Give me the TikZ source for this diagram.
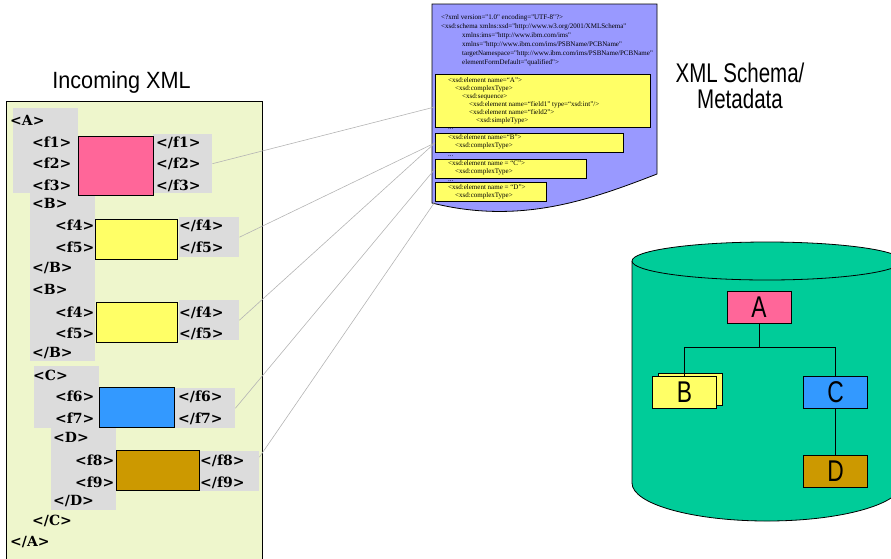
\documentclass[tikz,border=0pt]{standalone}
\usepackage{fontspec}
\newfontfamily\tagfont{DejaVu Serif}
\newfontfamily\schemafont{Liberation Serif}
\newfontfamily\headsans[FakeStretch=0.92]{Liberation Sans}
\newfontfamily\narrowsans[FakeStretch=0.76]{Liberation Sans}

\definecolor{panelGreen}{HTML}{EEF6CC}
\definecolor{tagGray}{HTML}{DCDCDC}
\definecolor{pinkA}{HTML}{FF6699}
\definecolor{fieldYellow}{HTML}{FFFF66}
\definecolor{blueC}{HTML}{3399FF}
\definecolor{brownD}{HTML}{CC9900}
\definecolor{docBlue}{HTML}{9999FF}
\definecolor{cylGreen}{HTML}{00CC99}
\definecolor{linkGray}{HTML}{B4B4B4}

\tikzset{
  tag/.style={anchor=west, inner sep=0pt, text height=10pt, text depth=0pt,
    font=\tagfont\bfseries\fontsize{14}{16}\selectfont},
  tagbg/.style={fill=tagGray, inner sep=0pt, anchor=north west},
  xsdbox/.style={fill=fieldYellow, draw=black, line width=0.8pt, inner sep=0pt, anchor=north west},
  xsdtext/.style={anchor=north west, inner sep=0pt, align=left,
    font=\schemafont\fontsize{7}{8}\selectfont},
  link/.style={draw=linkGray, line width=0.6pt},
  seg/.style={draw=black, line width=0.8pt, minimum width=64pt, minimum height=32pt,
    inner sep=0pt, font=\narrowsans\fontsize{30}{30}\selectfont},
}

\begin{document}
\begin{tikzpicture}[x=1pt, y=-1pt]
\clip (0,0) rectangle (891,558);

% incoming xml panel
\node[anchor=base, inner sep=0pt, font=\headsans\fontsize{23.5}{26}\selectfont] (incoming) at (121.5,88) {Incoming XML};
\draw[fill=panelGreen, line width=0.8pt] (6,101) rectangle (262,575);

% gray tag backgrounds
\fill[tagGray] (13,108) rectangle (78,193);
\fill[tagGray] (30,193) rectangle (95,361);
\fill[tagGray] (34,366) rectangle (99,428);
\fill[tagGray] (51,428) rectangle (116,510);
\node[tagbg, minimum width=59pt, minimum height=59pt] (r1) at (153,134) {};
\node[tagbg, minimum width=60pt, minimum height=40pt] (r2) at (179,217) {};
\node[tagbg, minimum width=60pt, minimum height=40pt] (r3) at (179,300) {};
\node[tagbg, minimum width=60pt, minimum height=40pt] (r4) at (175,388) {};
\node[tagbg, minimum width=60pt, minimum height=40pt] (r5) at (199,451) {};

% field values
\draw[fill=pinkA, line width=0.6pt] (78,136) rectangle (153,195);
\draw[fill=fieldYellow, line width=0.6pt] (95,219) rectangle (177,259);
\draw[fill=fieldYellow, line width=0.6pt] (96,302) rectangle (177,342);
\draw[fill=blueC, line width=0.6pt] (99,387) rectangle (174,427);
\draw[fill=brownD, line width=0.6pt] (116,450) rectangle (199,490);

% start and end tags
\foreach \n/\x/\y [count=\i] in {A/10/120, f1/32/142, f2/32/163, f3/32/185,
    B/32/203, f4/55/225, f5/55/247, B/32/289, f4/55/312, f5/55/333,
    C/33/375, f6/55/396, f7/55/418, D/53/437, f8/75/460, f9/75/482}
  \node[tag] (open\i) at (\x,\y) {<\n>};
\foreach \n/\x/\y [count=\i] in {f1/156/142, f2/156/163, f3/156/185,
    f4/179/225, f5/179/247, B/32/267, f4/179/312, f5/179/333, B/32/352,
    f6/178/396, f7/178/418, f8/200/460, f9/200/482, D/53/500, C/32/520, A/10/541}
  \node[tag] (close\i) at (\x,\y) {</\n>};

% schema document
\draw[fill=docBlue, line width=0.8pt] (432,4) -- (657,4) -- (657,174)
  .. controls (590,200) and (520,225) .. (432,203) -- cycle;
\node[xsdtext, font=\schemafont\fontsize{7}{9}\selectfont] (header) at (441,14)
  {<?xml version="1.0" encoding="UTF-8"?>\\
   <xsd:schema xmlns:xsd="http://www.w3.org/2001/XMLSchema"\\
   \hspace*{21pt}xmlns:ims="http://www.ibm.com/ims"\\
   \hspace*{21pt}xmlns="http://www.ibm.com/ims/PSBName/PCBName"\\
   \hspace*{21pt}targetNamespace="http://www.ibm.com/ims/PSBName/PCBName"\\
   \hspace*{21pt}elementFormDefault="qualified">};

\node[xsdbox, minimum width=215pt, minimum height=53pt] (sa) at (435,74) {};
\node[xsdbox, minimum width=188pt, minimum height=19pt] (sb) at (435,133) {};
\node[xsdbox, minimum width=151pt, minimum height=19pt] (sc) at (435,159) {};
\node[xsdbox, minimum width=111pt, minimum height=19pt] (sd) at (435,182) {};

\node[xsdtext] (satext) at (448,77.5)
  {<xsd:element name=“A”>\\
   \hspace*{7pt}<xsd:complexType>\\
   \hspace*{14pt}<xsd:sequence>\\
   \hspace*{21pt}<xsd:element name=“field1” type=“xsd:int”/>\\
   \hspace*{21pt}<xsd:element name=“field2”>\\
   \hspace*{28pt}<xsd:simpleType>};
\node[xsdtext] (sbtext) at (448,134.5)
  {<xsd:element name=“B”>\\ \hspace*{7pt}<xsd:complexType>};
\node[xsdtext] (sctext) at (448,160.5)
  {<xsd:element name = “C”>\\ \hspace*{7pt}<xsd:complexType>};
\node[xsdtext] (sdtext) at (448,184.5)
  {<xsd:element name = “D”>\\ \hspace*{7pt}<xsd:complexType>};
\foreach \y [count=\i] in {129,156,181}
  \node[anchor=base west, inner sep=0pt, font=\schemafont\fontsize{7}{8}\selectfont] (dots\i) at (448,\y) {...};

\node[align=center, inner sep=0pt, font=\narrowsans\fontsize{27}{26}\selectfont] (schemalabel) at (740,85.5)
  {XML Schema/\\Metadata};

% links from the fields to their schema elements
\draw[link] (r1.east) -- ([yshift=-6pt]sa.west);
\draw[link] (r2.east) -- (sb.west);
\draw[link] (r3.east) -- (sb.west);
\draw[link] (r4.east) -- (sc.west);
\draw[link] (r5.25) -- (sd.south west);

% database
\fill[cylGreen] (632,261) -- (632,483) arc[start angle=180, end angle=0, x radius=135, y radius=38] -- (902,261) -- cycle;
\draw[line width=0.8pt] (632,261) -- (632,483) arc[start angle=180, end angle=0, x radius=135, y radius=38] -- (902,261);
\draw[fill=cylGreen, line width=0.8pt] (767,261) ellipse[x radius=135, y radius=19];

% segment hierarchy
\node[seg, fill=pinkA] (tA) at (759,307.5) {A};
\node[seg, fill=fieldYellow] (tBb) at (690.5,389) {};
\node[seg, fill=fieldYellow] (tB) at (684.5,392) {B};
\node[seg, fill=blueC] (tC) at (835.5,392) {C};
\node[seg, fill=brownD] (tD) at (835.5,471.5) {D};
\draw[line width=0.8pt] (tA.south) -- ++(0,23) -| (tB.north);
\draw[line width=0.8pt] (tA.south) -- ++(0,23) -| (tC.north);
\draw[line width=0.8pt] (tC) -- (tD);
\end{tikzpicture}
\end{document}
